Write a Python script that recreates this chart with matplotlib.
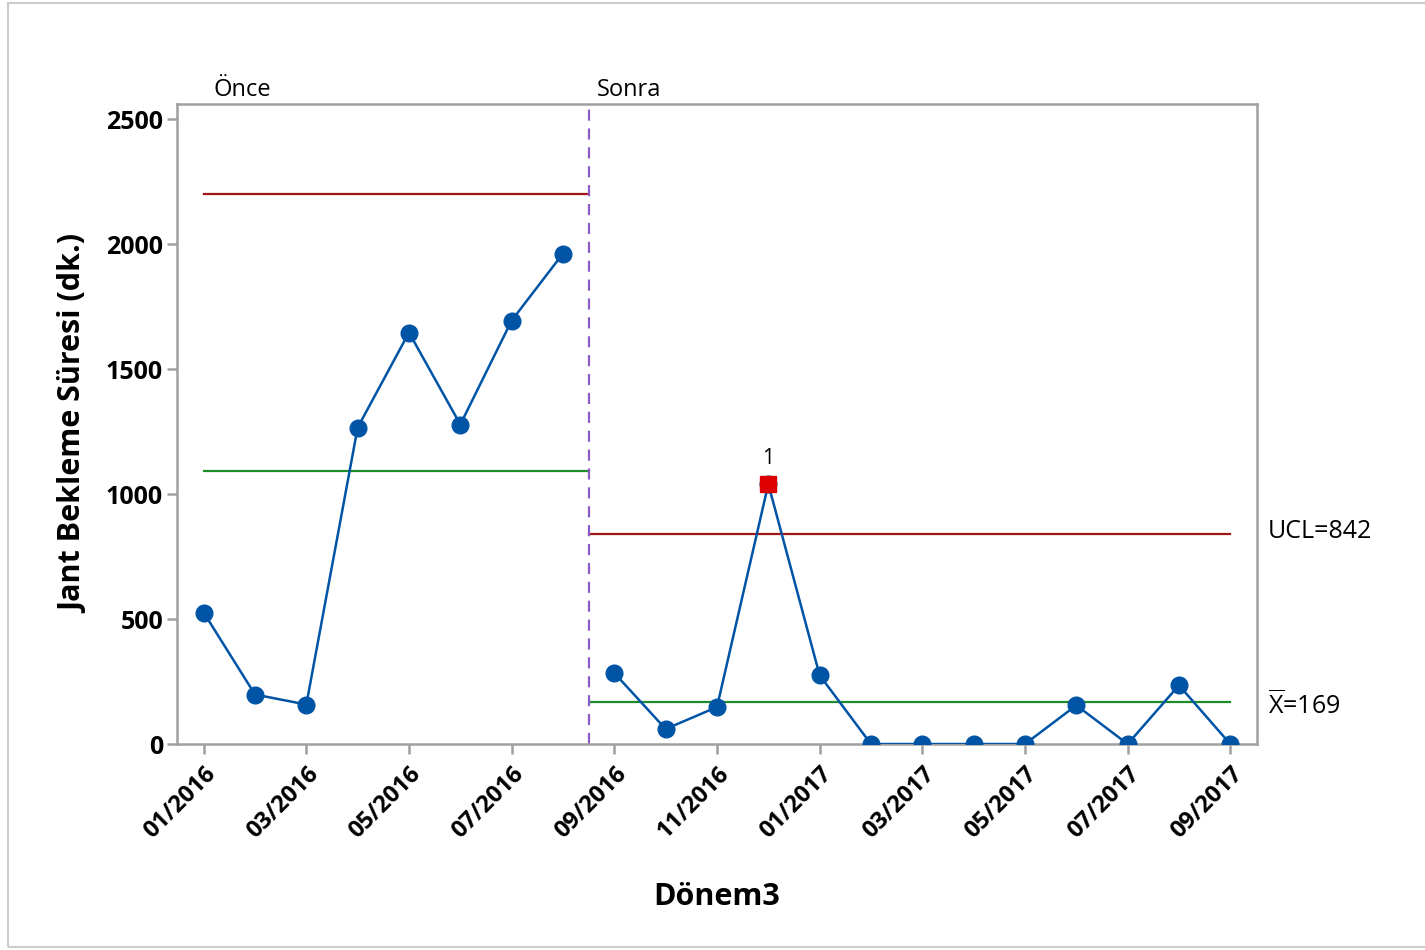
import matplotlib
matplotlib.use("Agg")
import matplotlib.pyplot as plt
from matplotlib.patches import Rectangle
from matplotlib.transforms import blended_transform_factory

plt.rcParams['font.family'] = ['Open Sans', 'DejaVu Sans']
plt.rcParams['mathtext.fontset'] = 'custom'
plt.rcParams['mathtext.rm'] = 'Open Sans'

# --- data: monthly rim waiting time, before / after ---
months = ["01/2016", "02/2016", "03/2016", "04/2016", "05/2016", "06/2016",
          "07/2016", "08/2016", "09/2016", "10/2016", "11/2016", "12/2016",
          "01/2017", "02/2017", "03/2017", "04/2017", "05/2017", "06/2017",
          "07/2017", "08/2017", "09/2017"]
before = [526, 198, 158, 1266, 1646, 1278, 1694, 1962]
after = [284, 60, 148, 1040, 275, 0, 0, 0, 0, 155, 0, 235, 0]

# control limits per stage
before_mean, before_ucl = 1094, 2202
after_mean, after_ucl = 169, 842
out_of_control = [11]   # index of the point beyond UCL

values = before + after
n_before = len(before)
x = list(range(len(values)))

blue = '#0054A6'
red_line = '#A31515'
green_line = '#1E8C2A'
purple = '#8A5CC8'
gray = '#A0A0A0'

fig = plt.figure(figsize=(14.25, 9.5), dpi=100)
ax = fig.add_axes([0.1242, 0.2168, 0.7579, 0.6737])

# limit lines per stage
split = n_before - 0.5
ax.plot([0, split], [before_ucl, before_ucl], color=red_line, lw=1.6)
ax.plot([0, split], [before_mean, before_mean], color=green_line, lw=1.6)
ax.plot([split, len(values) - 1], [after_ucl, after_ucl], color=red_line, lw=1.6)
ax.plot([split, len(values) - 1], [after_mean, after_mean], color=green_line, lw=1.6)
ax.axvline(split, color=purple, lw=1.6, ls=(0, (5, 3.5)))

# data line, one segment per stage
ax.plot(x[:n_before], before, color=blue, lw=1.8, marker='o', ms=12, zorder=3)
ax.plot(x[n_before:], after, color=blue, lw=1.8, marker='o', ms=12, zorder=3)
for i in out_of_control:
    ax.plot(x[i], values[i], marker='s', ms=11, color='#DD0000', zorder=4)
    ax.text(x[i], values[i] + 60, "1", ha='center', va='bottom', fontsize=15)

ax.set_xlim(-0.52, 20.52)
ax.set_ylim(0, 2560)
ax.set_yticks([0, 500, 1000, 1500, 2000, 2500])
ax.set_xticks(x[::2])
ax.set_xticklabels(months[::2], rotation=45, ha='right', va='top',
                   rotation_mode='anchor', fontsize=17, fontweight='bold')
for lab in ax.get_yticklabels():
    lab.set_fontsize(18)
    lab.set_fontweight('bold')
ax.tick_params(axis='both', color=gray, width=1.8, length=7)
ax.tick_params(axis='x', pad=6)
ax.tick_params(axis='y', pad=3)
for sp in ax.spines.values():
    sp.set_color(gray)
    sp.set_linewidth(1.8)

ax.set_ylabel("Jant Bekleme Süresi (dk.)", fontsize=22, fontweight='bold', labelpad=12)
ax.set_xlabel("Dönem3", fontsize=22, fontweight='bold', labelpad=28)

# stage names above the plot
trans = blended_transform_factory(ax.transData, ax.transAxes)
ax.text(0.2, 1.003, "Önce", transform=trans, fontsize=17, va='bottom', ha='left')
ax.text(split + 0.15, 1.003, "Sonra", transform=trans, fontsize=17, va='bottom', ha='left')

# limit labels on the right
trans_r = blended_transform_factory(ax.transAxes, ax.transData)
ax.text(1.01, after_ucl + 10, "UCL=842", transform=trans_r, fontsize=18, va='center', ha='left')
ax.text(1.01, after_mean - 12, r"$\overline{\mathrm{X}}$=169", transform=trans_r,
        fontsize=18, va='center', ha='left')

# light frame around the figure
fig.patches.append(Rectangle((8 / 1425, 3 / 950), 1.0, 944 / 950, transform=fig.transFigure,
                             fill=False, edgecolor='#CCCCCC', lw=1.5))

fig.savefig("out.png", dpi=100)
